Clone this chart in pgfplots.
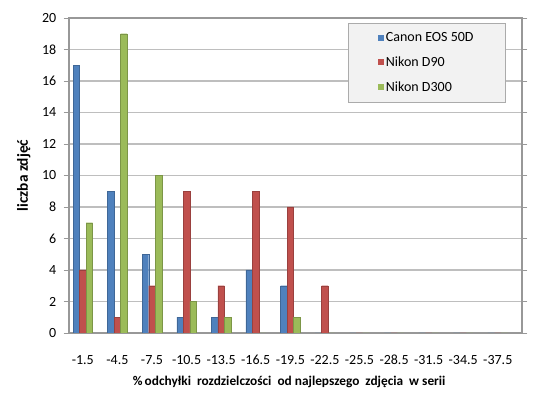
\documentclass[border=0pt]{standalone}
\usepackage{pgfplots}
\pgfplotsset{compat=1.18}
\usepackage{fontspec}
\setmainfont{Carlito}
\definecolor{cblue}{HTML}{4F81BD}
\definecolor{cred}{HTML}{C0504D}
\definecolor{cgreen}{HTML}{9BBB59}
\definecolor{gridgray}{HTML}{BEBEBE}
\definecolor{leggray}{HTML}{F2F2F2}
\begin{document}
\begin{tikzpicture}
\path (0pt,0pt) rectangle (412.5pt,298.5pt);
\begin{axis}[
  at={(51.75pt,48.75pt)}, anchor=south west,
  scale only axis, width=339.75pt, height=236.25pt,
  ybar=0pt, bar width=4.9pt,
  xmin=-0.4, xmax=12.7, ymin=0, ymax=20,
  xtick={0,...,12},
  xticklabels={-1.5,-4.5,-7.5,-10.5,-13.5,-16.5,-19.5,-22.5,-25.5,-28.5,-31.5,-34.5,-37.5},
  ytick={0,2,...,20},
  xtick style={draw=none},
  ytick style={gridgray!80!black, line width=0.6pt},
  tick align=outside, major tick length=4pt,
  ymajorgrids, grid style={gridgray, line width=0.9pt},
  axis line style={gridgray!80!black, line width=0.8pt},
  tick label style={font=\fontsize{10.5}{12}\selectfont, black},
  /pgf/number format/assume math mode=true,
  xticklabel style={anchor=center, yshift=-16pt},
  yticklabel style={xshift=-2pt},
  xlabel={\%\,odchyłki\ \ rozdzielczości\ \ od\ najlepszego\ \ zdjęcia\ \ w\ serii},
  ylabel={liczba zdjęć},
  xlabel style={font=\bfseries\fontsize{10}{12}\selectfont, at={(rel axis cs:0.486,-0.156)}, anchor=center},
  ylabel style={font=\bfseries\fontsize{11.5}{13}\selectfont, at={(rel axis cs:-0.1,0.5)}, anchor=center, rotate=0},
  legend style={at={(rel axis cs:0.616,0.984)}, anchor=north west,
    fill=leggray, draw=gridgray!90!black, line width=0.6pt,
    font=\fontsize{10.5}{12}\selectfont,
    inner xsep=22pt, inner ysep=5pt, row sep=7pt,
    nodes={inner sep=1.5pt}},
  legend cell align=left,
  legend image code/.code={\fill[#1,draw=none] (0pt,-2.3pt) rectangle (4.6pt,2.3pt);},
]
\addplot[fill=cblue, draw=cblue!80!black, line width=0.3pt] coordinates {(0,17) (1,9) (2,5) (3,1) (4,1) (5,4) (6,3) (7,0) (8,0) (9,0) (10,0) (11,0) (12,0)};
\addplot[fill=cred, draw=cred!80!black, line width=0.3pt] coordinates {(0,4) (1,1) (2,3) (3,9) (4,3) (5,9) (6,8) (7,3) (8,0) (9,0) (10,0) (11,0) (12,0)};
\addplot[fill=cgreen, draw=cgreen!80!black, line width=0.3pt] coordinates {(0,7) (1,19) (2,10) (3,2) (4,1) (5,0) (6,1) (7,0) (8,0) (9,0) (10,0) (11,0) (12,0)};
\legend{Canon EOS 50D, Nikon D90, Nikon D300}
\end{axis}
\end{tikzpicture}
\end{document}
